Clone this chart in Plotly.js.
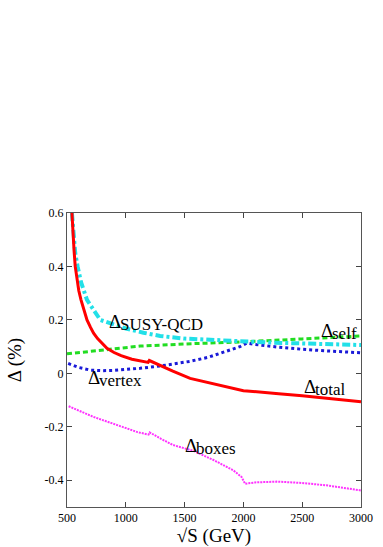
<!DOCTYPE html>
<html>
<head>
<meta charset="utf-8">
<script src="https://cdn.plot.ly/plotly-3.0.1.min.js"></script>
<style>html,body{margin:0;padding:0;background:#fff;}#chart{width:383px;height:547px;}</style>
</head>
<body>
<div id="chart"></div>
<script>
// sqrt(S) in GeV and Delta in %
const xTotal = [542, 550, 560, 570, 585, 600, 619, 645, 670, 700, 726, 760, 800, 840, 900, 960, 1052, 1120, 1190, 1200, 1250, 1292, 1400, 1547, 1700, 1830, 2000, 2030, 2141, 2300, 2500, 2750, 3000];
const yTotal = [0.6, 0.52, 0.46, 0.4, 0.35, 0.31, 0.275, 0.235, 0.2, 0.172, 0.15, 0.13, 0.112, 0.094, 0.078, 0.066, 0.053, 0.046, 0.041, 0.048, 0.038, 0.027, 0.008, -0.019, -0.035, -0.05, -0.065, -0.066, -0.069, -0.076, -0.084, -0.095, -0.106];

const xSusy = [542, 555, 570, 590, 620, 670, 740, 783, 896, 1000, 1150, 1292, 1500, 1750, 1971, 2250, 2500, 2750, 3000];
const ySusy = [0.6, 0.5, 0.45, 0.4, 0.34, 0.275, 0.225, 0.2, 0.183, 0.168, 0.152, 0.14, 0.13, 0.124, 0.119, 0.115, 0.112, 0.109, 0.106];

const xSelf = [500, 750, 868, 1122, 1500, 2000, 2500, 3000];
const ySelf = [0.073, 0.085, 0.091, 0.102, 0.11, 0.118, 0.129, 0.14];

const xVertex = [510, 600, 700, 800, 900, 1000, 1122, 1300, 1547, 1700, 1830, 1971, 2028, 2100, 2300, 2500, 2750, 3000];
const yVertex = [0.037, 0.022, 0.012, 0.01, 0.011, 0.014, 0.019, 0.028, 0.045, 0.06, 0.078, 0.1, 0.113, 0.108, 0.098, 0.09, 0.083, 0.077];

const xBoxes = [514, 726, 1009, 1100, 1193, 1203, 1300, 1400, 1575, 1750, 1915, 1985, 2014, 2100, 2283, 2500, 2707, 3000];
const yBoxes = [-0.123, -0.163, -0.206, -0.22, -0.229, -0.221, -0.245, -0.268, -0.29, -0.325, -0.363, -0.388, -0.413, -0.408, -0.405, -0.41, -0.419, -0.438];

const yTickVals = [-0.4, -0.2, 0, 0.2, 0.4, 0.6];
const yTickText = ['-0.4', '-0.2', '0', '0.2', '0.4', '0.6'];
const xTickVals = [500, 1000, 1500, 2000, 2500, 3000];
const xTickText = ['500', '1000', '1500', '2000', '2500', '3000'];

// curve labels: subscript names and their anchor points (data coords)
const labelSubs = ['SUSY-QCD', 'self', 'vertex', 'total', 'boxes'];
const labelX = [842, 2640, 664, 2495, 1485];
const labelY = [0.1925, 0.162, -0.016, -0.048, -0.27];

const serif = '"Liberation Serif", "Times New Roman", serif';

const traces = [
  {x: xSelf, y: ySelf, mode: 'lines', line: {color: '#22dd22', width: 3, dash: '5px,3px'}},
  {x: xVertex, y: yVertex, mode: 'lines', line: {color: '#1a1ad8', width: 3, dash: '3px,3px'}},
  {x: xSusy, y: ySusy, mode: 'lines', line: {color: '#22e0e8', width: 4, dash: '8px,3px,3px,3px'}},
  {x: xTotal, y: yTotal, mode: 'lines', line: {color: '#ff0000', width: 3}},
  {x: xBoxes, y: yBoxes, mode: 'lines', line: {color: '#ff33ff', width: 2, dash: '2px,1px'}}
];

const annotations = [];
labelSubs.forEach(function (s, i) {
  annotations.push({text: 'Δ', x: labelX[i], y: labelY[i], xref: 'x', yref: 'y', showarrow: false,
    xanchor: 'left', yanchor: 'middle', font: {family: serif, size: 19, color: '#000'}});
  annotations.push({text: s, x: labelX[i], y: labelY[i], xref: 'x', yref: 'y', showarrow: false,
    xanchor: 'left', yanchor: 'middle', xshift: 11, yshift: -3, font: {family: serif, size: 17, color: '#000'}});
});

const layout = {
  width: 383, height: 547,
  margin: {l: 67, r: 22, t: 213, b: 40},
  paper_bgcolor: '#fff', plot_bgcolor: '#fff',
  showlegend: false,
  font: {family: serif, color: '#000'},
  xaxis: {range: [500, 3000], tickvals: xTickVals, ticktext: xTickText, ticks: 'inside', ticklen: 5, tickcolor: '#444',
    mirror: 'ticks', showline: true, linecolor: '#555', linewidth: 1, showgrid: false, zeroline: false,
    tickfont: {family: serif, size: 12, color: '#000'},
    title: {text: '√S (GeV)', font: {family: serif, size: 19, color: '#000'}, standoff: 0}},
  yaxis: {range: [-0.5, 0.6], tickvals: yTickVals, ticktext: yTickText, ticks: 'inside', ticklen: 5, tickcolor: '#444',
    mirror: 'ticks', showline: true, linecolor: '#555', linewidth: 1, showgrid: false, zeroline: false,
    tickfont: {family: serif, size: 12, color: '#000'},
    title: {text: 'Δ (%)', font: {family: serif, size: 19, color: '#000'}, standoff: 17}},
  annotations: annotations
};

Plotly.newPlot('chart', traces, layout, {displayModeBar: false, staticPlot: true});
</script>
</body>
</html>
